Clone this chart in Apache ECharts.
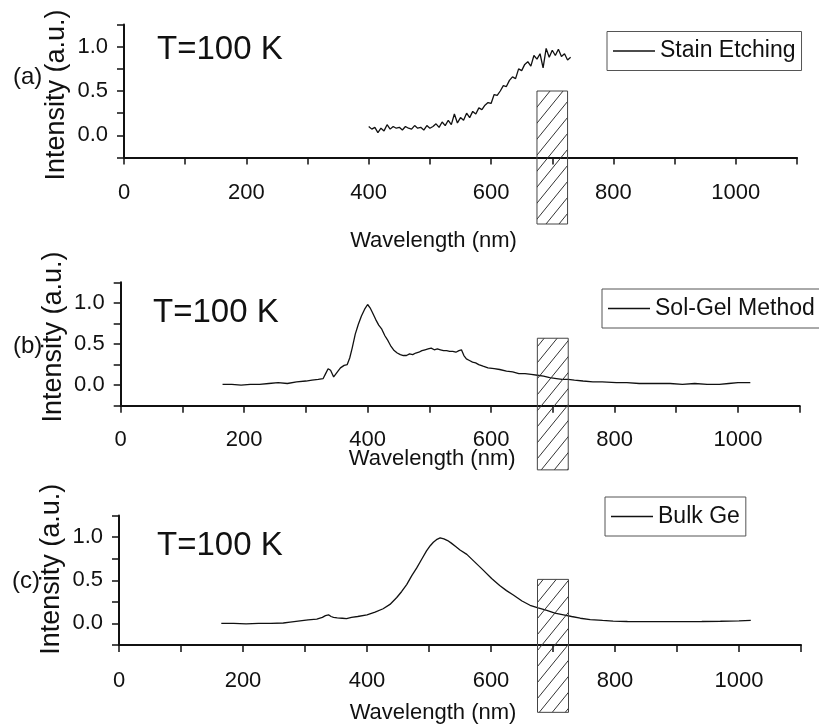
<!DOCTYPE html>
<html><head><meta charset="utf-8">
<script src="https://cdn.jsdelivr.net/npm/echarts@6/dist/echarts.min.js"></script>
<style>html,body{margin:0;padding:0;background:#fff}#c{width:819px;height:728px}</style>
</head><body><div id="c"></div>
<script>
// ---------- data ----------
const seriesNames = ['Stain Etching', 'Sol-Gel Method', 'Bulk Ge'];
const panelLabels = ['(a)', '(b)', '(c)'];
const tempLabel = 'T=100 K';
const xTitle = 'Wavelength (nm)';
const yTitle = 'Intensity (a.u.)';
const xTickLabels = [0, 200, 400, 600, 800, 1000];
const yTickLabels = [0, 0.5, 1.0];

const stainWl = [400,405,410,415,420,425,430,435,440,445,450,455,460,465,470,475,480,485,490,495,500,505,510,515,520,525,530,535,540,545,550,555,560,565,570,575,580,585,590,595,600,605,610,615,620,625,630,635,640,645,650,655,660,665,670,675,680,685,690,695,700,705,710,715,720,725,730];
const stainI = [0.10,0.07,0.09,0.03,0.08,0.05,0.12,0.07,0.10,0.08,0.09,0.06,0.10,0.08,0.07,0.11,0.08,0.09,0.06,0.11,0.08,0.10,0.13,0.09,0.15,0.11,0.17,0.12,0.24,0.14,0.20,0.17,0.25,0.20,0.27,0.24,0.31,0.29,0.34,0.37,0.36,0.46,0.45,0.50,0.56,0.55,0.62,0.66,0.64,0.75,0.73,0.80,0.83,0.78,0.90,0.86,0.92,0.76,0.98,0.88,0.96,0.90,0.97,0.89,0.92,0.85,0.88];

const solgelWl = [165,180,195,210,225,240,255,270,285,300,310,320,328,332,336,340,345,348,352,356,362,367,371,375,380,385,390,395,400,404,408,413,418,423,428,433,438,443,448,453,458,463,468,473,478,483,488,493,498,503,508,513,518,523,528,533,538,543,548,552,556,560,565,570,575,580,587,595,605,614,625,635,645,655,665,675,685,695,706,715,725,735,749,765,780,803,820,840,868,890,910,930,950,970,985,1000,1010,1020];
const solgelI = [0.01,0.01,0.00,0.01,0.01,0.02,0.03,0.02,0.04,0.05,0.06,0.07,0.08,0.14,0.20,0.18,0.10,0.09,0.17,0.21,0.24,0.25,0.33,0.45,0.62,0.74,0.84,0.92,0.98,0.94,0.88,0.80,0.73,0.68,0.60,0.54,0.47,0.42,0.39,0.37,0.36,0.36,0.38,0.37,0.39,0.40,0.42,0.43,0.44,0.45,0.43,0.44,0.43,0.42,0.42,0.41,0.41,0.40,0.42,0.43,0.36,0.32,0.30,0.28,0.27,0.25,0.23,0.21,0.20,0.19,0.17,0.16,0.14,0.14,0.13,0.12,0.11,0.09,0.08,0.07,0.07,0.06,0.05,0.04,0.04,0.03,0.03,0.02,0.02,0.02,0.01,0.02,0.01,0.01,0.02,0.03,0.03,0.03];

const bulkWl = [165,185,205,225,245,265,276,292,305,319,328,333,338,342,346,352,360,367,375,385,400,413,426,437,448,456,464,472,480,488,496,502,507,512,518,524,530,536,543,550,561,574,587,601,614,625,636,650,663,676,690,703,717,730,744,760,780,797,820,850,877,910,940,970,1000,1019];
const bulkI = [0.00,0.00,-0.005,0.00,0.00,0.005,0.015,0.03,0.04,0.05,0.07,0.09,0.10,0.08,0.07,0.065,0.06,0.055,0.07,0.08,0.10,0.13,0.17,0.22,0.30,0.37,0.45,0.55,0.64,0.74,0.84,0.90,0.94,0.97,0.99,0.98,0.96,0.93,0.89,0.85,0.80,0.71,0.62,0.52,0.44,0.38,0.33,0.26,0.21,0.18,0.15,0.12,0.10,0.08,0.06,0.045,0.035,0.027,0.022,0.02,0.02,0.02,0.022,0.025,0.03,0.035];

const hatchX = [675, 725];
const hatchYa = [-1.0, 0.5];
const hatchYb = [-1.03, 0.57];
const hatchYc = [-1.03, 0.51];

// ---------- layout ----------
const FONT = "'Liberation Sans',Arial,sans-serif";
const panels = [
  {wl: stainWl, I: stainI, hy: hatchYa, grid: {left: 124, top: 24.5, width: 673, height: 133},
   legend: {left: 607, top: 31.5}, lab: [13, 77], temp: [157, 50], xGap: 72, xPad: 54, lblMargin: 24, yPad: [0, 8, 0, 0]},
  {wl: solgelWl, I: solgelI, hy: hatchYb, grid: {left: 120.7, top: 282.3, width: 679, height: 123.4},
   legend: {left: 602, top: 289}, lab: [13, 346], temp: [153, 313], xGap: 42, xPad: 56, lblMargin: 23, yPad: [0, 0, 0, 14]},
  {wl: bulkWl, I: bulkI, hy: hatchYc, grid: {left: 119, top: 515.5, width: 682, height: 129.5},
   legend: {left: 605, top: 497}, lab: [12, 581], temp: [157, 546], xGap: 57, xPad: 54, lblMargin: 25, yPad: [0, 0, 0, 22]}
];

function hatchCanvas() {
  const w = 13, h = 16;
  const c = document.createElement('canvas');
  c.width = w; c.height = h;
  const g = c.getContext('2d');
  g.strokeStyle = '#333'; g.lineWidth = 1;
  [-w, 0, w].forEach(o => {
    g.beginPath();
    g.moveTo(o - 2, h + 2 * h / w);
    g.lineTo(o + w + 2, -2 * h / w);
    g.stroke();
  });
  return c;
}
const pattern = {image: hatchCanvas(), repeat: 'repeat'};

const grids = [], xAxes = [], yAxes = [], series = [], legends = [], graphics = [];
panels.forEach((p, i) => {
  grids.push(Object.assign({outerBoundsMode: 'none', containLabel: false}, p.grid));
  xAxes.push({
    type: 'value', gridIndex: i, min: 0, max: 1100, interval: 100,
    name: xTitle, nameLocation: 'middle', nameGap: p.xGap, nameMoveOverlap: false,
    nameTextStyle: {fontFamily: FONT, fontSize: 22, color: '#111', padding: [0, p.xPad, 0, 0]},
    axisLine: {onZero: false, lineStyle: {color: '#111', width: 2}},
    axisTick: {inside: false, length: 7, lineStyle: {color: '#111', width: 1.5}},
    axisLabel: {margin: p.lblMargin, fontFamily: FONT, fontSize: 22, color: '#111',
      formatter: v => xTickLabels.indexOf(v) >= 0 ? String(v) : ''},
    splitLine: {show: false}
  });
  yAxes.push({
    type: 'value', gridIndex: i, min: -0.25, max: 1.25, interval: 0.25,
    name: yTitle, nameLocation: 'middle', nameGap: 54, nameRotate: 90, nameMoveOverlap: false,
    nameTextStyle: {fontFamily: FONT, fontSize: 27, color: '#111', padding: p.yPad},
    axisLine: {onZero: false, lineStyle: {color: '#111', width: 2}},
    axisTick: {inside: false, length: 7, lineStyle: {color: '#111', width: 1.5}},
    axisLabel: {margin: 16, fontFamily: FONT, fontSize: 22, color: '#111',
      formatter: v => yTickLabels.some(t => Math.abs(t - v) < 1e-9) ? v.toFixed(1) : ''},
    splitLine: {show: false}
  });
  series.push({
    type: 'line', name: seriesNames[i], xAxisIndex: i, yAxisIndex: i,
    data: p.wl.map((w, k) => [w, p.I[k]]),
    symbol: 'none', showSymbol: false,
    lineStyle: {color: '#111', width: 1.3}, itemStyle: {color: '#111'}, z: 2
  });
  series.push({
    type: 'custom', xAxisIndex: i, yAxisIndex: i, silent: true, clip: false, z: 3,
    data: [[hatchX[0], hatchX[1], p.hy[0], p.hy[1]]],
    encode: {x: [0, 1], y: [2, 3]},
    renderItem: (params, api) => {
      const a = api.coord([api.value(0), api.value(3)]);
      const b = api.coord([api.value(1), api.value(2)]);
      return {type: 'rect', shape: {x: a[0], y: a[1], width: b[0] - a[0], height: b[1] - a[1]},
        style: {fill: pattern, stroke: '#444', lineWidth: 1}};
    }
  });
  legends.push({
    data: [seriesNames[i]], left: p.legend.left, top: p.legend.top,
    orient: 'horizontal', padding: [8, 6, 8, 6], itemWidth: 42, itemHeight: 1.4,
    icon: 'rect', itemStyle: {color: '#111', borderWidth: 0},
    borderColor: '#555', borderWidth: 1, borderRadius: 0, selectedMode: false,
    textStyle: {fontFamily: FONT, fontSize: 23, color: '#111'}
  });
  graphics.push({type: 'text', x: p.lab[0], y: p.lab[1],
    style: {text: panelLabels[i], fontFamily: FONT, fontSize: 24, fill: '#111', verticalAlign: 'middle'}});
  graphics.push({type: 'text', x: p.temp[0], y: p.temp[1],
    style: {text: tempLabel, fontFamily: FONT, fontSize: 33, fill: '#111', verticalAlign: 'middle'}});
});

const chart = echarts.init(document.getElementById('c'), null, {renderer: 'canvas'});
chart.setOption({
  animation: false, backgroundColor: '#fff',
  grid: grids, xAxis: xAxes, yAxis: yAxes, series: series, legend: legends, graphic: graphics
});
</script></body></html>
